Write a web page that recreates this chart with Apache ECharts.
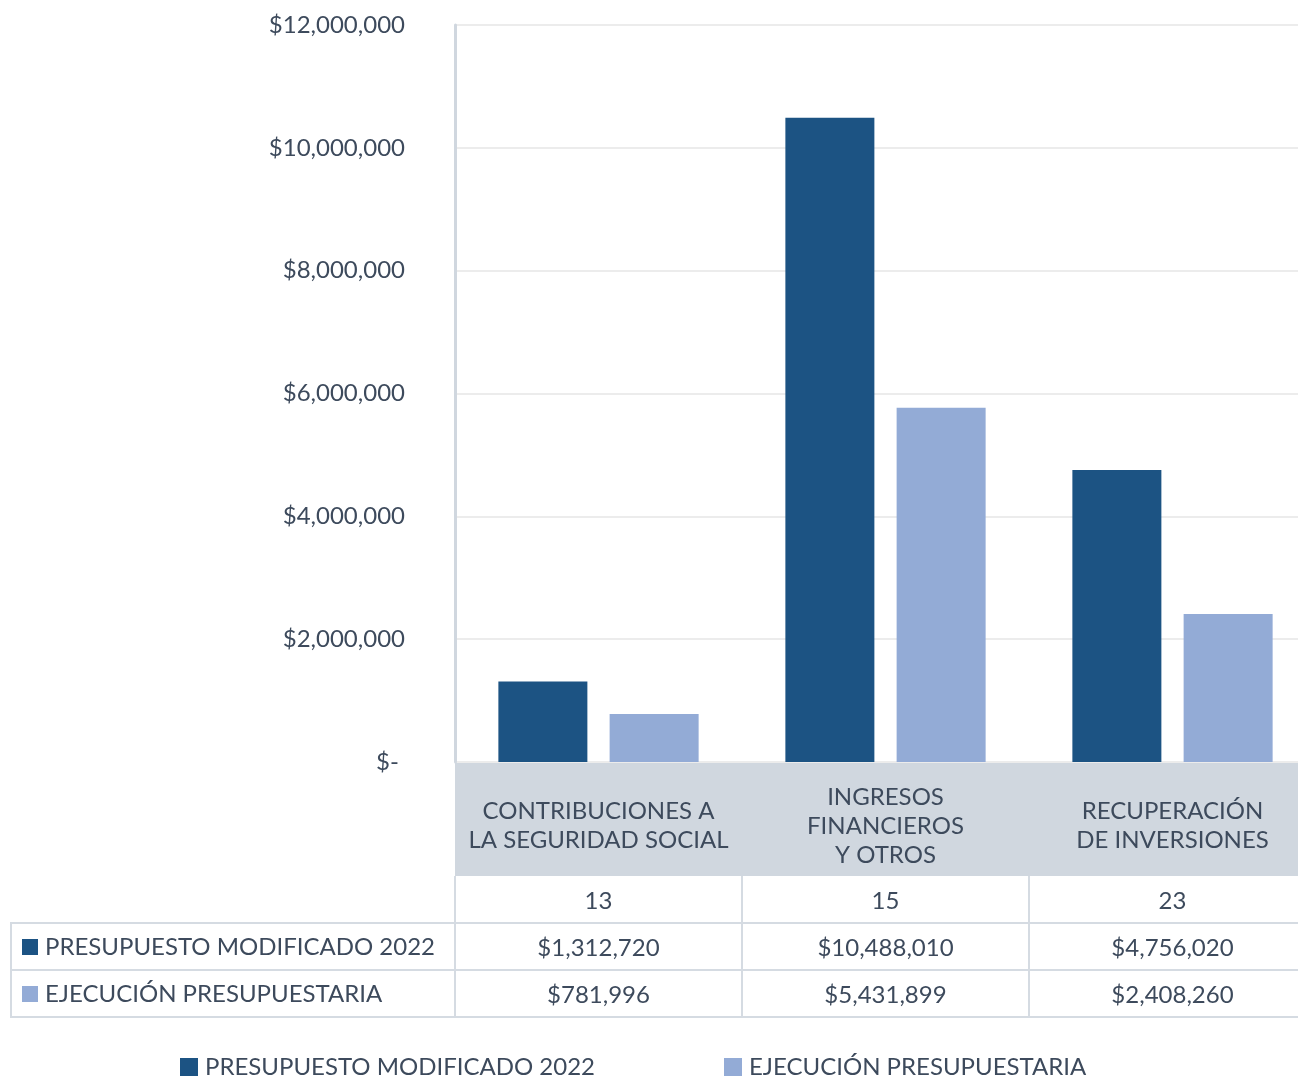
<!DOCTYPE html>
<html>
<head>
<meta charset="utf-8">
<script src="https://cdn.jsdelivr.net/npm/echarts@6/dist/echarts.min.js"></script>
<style>
  html, body { margin: 0; padding: 0; background: #fff; }
  #chart { width: 1298px; height: 1080px; }
</style>
</head>
<body>
<div id="chart"></div>
<script>
// datos
const categories = ['CONTRIBUCIONES A\nLA SEGURIDAD SOCIAL', 'INGRESOS\nFINANCIEROS\nY OTROS', 'RECUPERACIÓN\nDE INVERSIONES'];
const codes = ['13', '15', '23'];
const seriesNames = ['PRESUPUESTO MODIFICADO 2022', 'EJECUCIÓN PRESUPUESTARIA'];
// valores de la tabla
const presupuesto = [1312720, 10488010, 4756020];
const ejecucion = [781996, 5431899, 2408260];
// alturas de barras tal como se ven en la gráfica (la barra de 15 no coincide con su etiqueta)
const presupuestoBarras = [1312720, 10488010, 4756020];
const ejecucionBarras = [781996, 5770000, 2408260];
const yTicks = [0, 2000000, 4000000, 6000000, 8000000, 10000000, 12000000];

const colors = ['#1c5383', '#93abd6'];
const textColor = '#3d4a5c';
const lineColor = '#d5dbe2';
const font = 'Lato';
const fs = 24;

const money = v => '$' + Number(v).toLocaleString('en-US');

// geometría del área (grid)
const gLeft = 455, gTop = 25, gWidth = 861, gHeight = 737;
const gBottom = gTop + gHeight; // 762
const bandH = 114, rowH = 47;

const chart = echarts.init(document.getElementById('chart'));

function tableAxis(offset, rows, fmt) {
  return {
    type: 'category',
    gridIndex: 0,
    position: 'bottom',
    offset: offset,
    data: categories,
    z: 10,
    axisLine: { show: offset > bandH, lineStyle: { color: lineColor, width: 2 } },
    axisTick: {
      show: rows,
      alignWithLabel: false,
      length: rowH,
      lineStyle: { color: lineColor, width: 2 }
    },
    axisLabel: {
      show: !!fmt,
      interval: 0,
      margin: rowH / 2 + 2,
      verticalAlign: 'middle',
      fontFamily: font,
      fontSize: fs,
      color: textColor,
      formatter: fmt || (() => '')
    }
  };
}

const option = {
  backgroundColor: '#fff',
  animation: false,
  grid: {
    left: gLeft, top: gTop, width: gWidth, height: gHeight,
    containLabel: false,
    outerBoundsMode: 'none'
  },
  legend: {
    left: 180,
    top: 1055,
    padding: 0,
    icon: 'rect',
    itemWidth: 18,
    itemHeight: 18,
    itemGap: 129,
    textStyle: { fontFamily: font, fontSize: fs, color: textColor, padding: [0, 0, 0, 2] },
    data: seriesNames
  },
  xAxis: [
    {
      type: 'category',
      data: categories,
      z: 10,
      axisLine: { show: false },
      axisTick: { show: false },
      axisLabel: {
        interval: 0,
        margin: bandH / 2 + 7,
        verticalAlign: 'middle',
        align: 'center',
        lineHeight: 29,
        fontFamily: font,
        fontSize: fs,
        color: textColor
      }
    },
    tableAxis(bandH, true, (v, i) => codes[i]),
    tableAxis(bandH + rowH, true, (v, i) => money(presupuesto[i])),
    tableAxis(bandH + rowH * 2, true, (v, i) => money(ejecucion[i])),
    tableAxis(bandH + rowH * 3, false, null)
  ],
  yAxis: {
    type: 'value',
    min: yTicks[0],
    max: yTicks[yTicks.length - 1],
    interval: yTicks[1] - yTicks[0],
    axisLine: { show: true, lineStyle: { color: '#d0d7df', width: 3 } },
    axisTick: { show: false },
    splitLine: { lineStyle: { color: '#ececec', width: 2 } },
    axisLabel: {
      margin: 50,
      fontFamily: font,
      fontSize: fs,
      color: textColor,
      formatter: v => (v === 0 ? '$- ' : money(v))
    }
  },
  series: [
    {
      name: seriesNames[0],
      type: 'bar',
      data: presupuestoBarras,
      barWidth: 89,
      barGap: '25%',
      itemStyle: { color: colors[0] }
    },
    {
      name: seriesNames[1],
      type: 'bar',
      data: ejecucionBarras,
      barWidth: 89,
      barGap: '25%',
      itemStyle: { color: colors[1] }
    }
  ],
  graphic: [
    // franja gris de categorías
    {
      type: 'rect',
      z: -10,
      shape: { x: gLeft, y: gBottom, width: gWidth, height: bandH },
      style: { fill: '#d0d7df' }
    },
    // parte izquierda de la tabla
    {
      type: 'line',
      shape: { x1: 10, y1: gBottom + bandH + rowH, x2: gLeft, y2: gBottom + bandH + rowH },
      style: { stroke: lineColor, lineWidth: 2 }
    },
    {
      type: 'line',
      shape: { x1: 10, y1: gBottom + bandH + rowH * 2, x2: gLeft, y2: gBottom + bandH + rowH * 2 },
      style: { stroke: lineColor, lineWidth: 2 }
    },
    {
      type: 'line',
      shape: { x1: 10, y1: gBottom + bandH + rowH * 3, x2: gLeft, y2: gBottom + bandH + rowH * 3 },
      style: { stroke: lineColor, lineWidth: 2 }
    },
    {
      type: 'line',
      shape: { x1: 11, y1: gBottom + bandH + rowH, x2: 11, y2: gBottom + bandH + rowH * 3 },
      style: { stroke: lineColor, lineWidth: 2 }
    },
    {
      type: 'rect',
      shape: { x: 22, y: gBottom + bandH + rowH + 16, width: 16, height: 16 },
      style: { fill: colors[0] }
    },
    {
      type: 'text',
      x: 45,
      y: gBottom + bandH + rowH * 1.5 + 1,
      style: { text: seriesNames[0], fontFamily: font, fontSize: fs, fill: textColor, verticalAlign: 'middle' }
    },
    {
      type: 'rect',
      shape: { x: 22, y: gBottom + bandH + rowH * 2 + 16, width: 16, height: 16 },
      style: { fill: colors[1] }
    },
    {
      type: 'text',
      x: 45,
      y: gBottom + bandH + rowH * 2.5 + 1,
      style: { text: seriesNames[1], fontFamily: font, fontSize: fs, fill: textColor, verticalAlign: 'middle' }
    }
  ]
};

chart.setOption(option);
</script>
</body>
</html>
